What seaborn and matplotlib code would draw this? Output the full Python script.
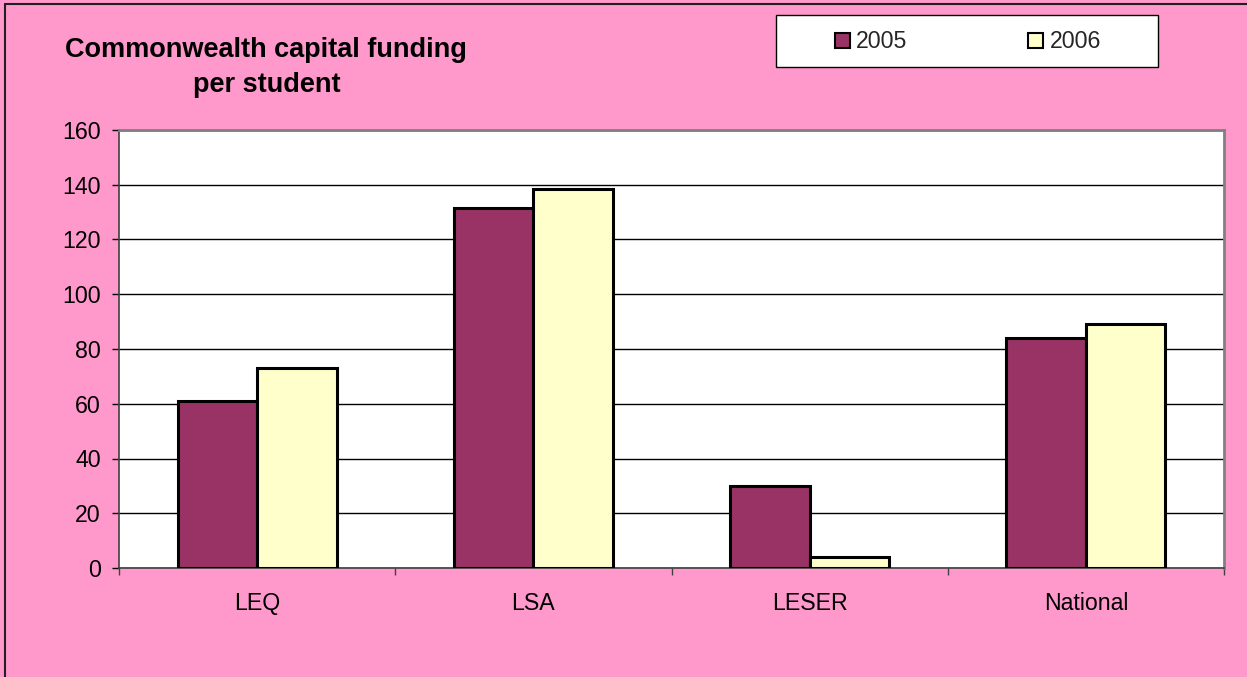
import matplotlib
matplotlib.use("Agg")
import matplotlib.pyplot as plt
from matplotlib.lines import Line2D
from matplotlib.patches import Rectangle
import seaborn as sns
import pandas as pd

# Data
regions = ["LEQ", "LSA", "LESER", "National"]
years = ["2005", "2006"]
funding_2005 = [61, 131.5, 30, 84]
funding_2006 = [73, 138.5, 4, 89]
y_ticks = [0, 20, 40, 60, 80, 100, 120, 140, 160]

df = pd.DataFrame({
    "region": regions * 2,
    "year": [years[0]] * len(regions) + [years[1]] * len(regions),
    "value": funding_2005 + funding_2006,
})

PINK = "#FF99CC"
colors = {"2005": "#993366", "2006": "#FFFFCC"}

sns.set_theme(style="white")
plt.rcParams["font.family"] = ["Liberation Sans", "DejaVu Sans"]

fig = plt.figure(figsize=(12.47, 6.77), dpi=100)
fig.patch.set_facecolor(PINK)

W, H = 1247, 677
ax = fig.add_axes([119 / W, 1 - 568 / H, (1224 - 119) / W, (568 - 130) / H])
ax.set_facecolor("white")

sns.barplot(data=df, x="region", y="value", hue="year", order=regions,
            hue_order=years, palette=colors, saturation=1, width=0.575, gap=0,
            edgecolor="black", linewidth=2.2, ax=ax, legend=False, zorder=3)

ax.set_ylim(0, 160)
ax.set_xlim(-0.5, len(regions) - 0.5)
ax.set_yticks(y_ticks)
ax.yaxis.grid(True, color="black", linewidth=1)
ax.set_axisbelow(True)
ax.set_xlabel("")
ax.set_ylabel("")

# spines
for side in ("top", "right"):
    ax.spines[side].set_visible(True)
    ax.spines[side].set_color("#808080")
    ax.spines[side].set_linewidth(2)
for side in ("left", "bottom"):
    ax.spines[side].set_visible(True)
    ax.spines[side].set_color("#404040")
    ax.spines[side].set_linewidth(1.2)

ax.tick_params(axis="y", which="major", left=True, length=5, width=1,
               color="black", labelsize=16.7, pad=8, labelcolor="black")
ax.tick_params(axis="x", which="major", bottom=False, length=0,
               labelsize=16.7, pad=17, labelcolor="black")
ax.set_xticks([i + 0.5 for i in range(-1, len(regions))], minor=True)
ax.tick_params(axis="x", which="minor", bottom=True, length=5, width=1,
               color="#404040")

# title
fig.text(266 / W, 1 - 50 / H, "Commonwealth capital funding",
         ha="center", va="center", fontsize=19.5, fontweight="bold", color="black")
fig.text(267 / W, 1 - 85 / H, "per student",
         ha="center", va="center", fontsize=19.5, fontweight="bold", color="black")

# legend box and entries
fig.patches.append(Rectangle((776 / W, 1 - 67 / H), (1158 - 776) / W, 52 / H,
                             transform=fig.transFigure, facecolor="white",
                             edgecolor="black", linewidth=1, zorder=1))
handles = [Rectangle((0, 0), 1, 1, facecolor=colors[y], edgecolor="black",
                     linewidth=1.5) for y in years]
fig.legend(handles, years, loc="center", bbox_to_anchor=(968 / W, 1 - 42 / H),
           ncol=2, frameon=False, fontsize=16.7, handlelength=0.65,
           handleheight=0.65, handletextpad=0.26, columnspacing=5.2)

# outer frame on left and top
fig.add_artist(Line2D([4.5 / W, 4.5 / W], [0, 1 - 3.5 / H], transform=fig.transFigure,
                      color="#202020", linewidth=1.5))
fig.add_artist(Line2D([4.5 / W, 1], [1 - 3.5 / H, 1 - 3.5 / H], transform=fig.transFigure,
                      color="#202020", linewidth=1.5))

fig.savefig("out.png", dpi=100, facecolor=PINK)
